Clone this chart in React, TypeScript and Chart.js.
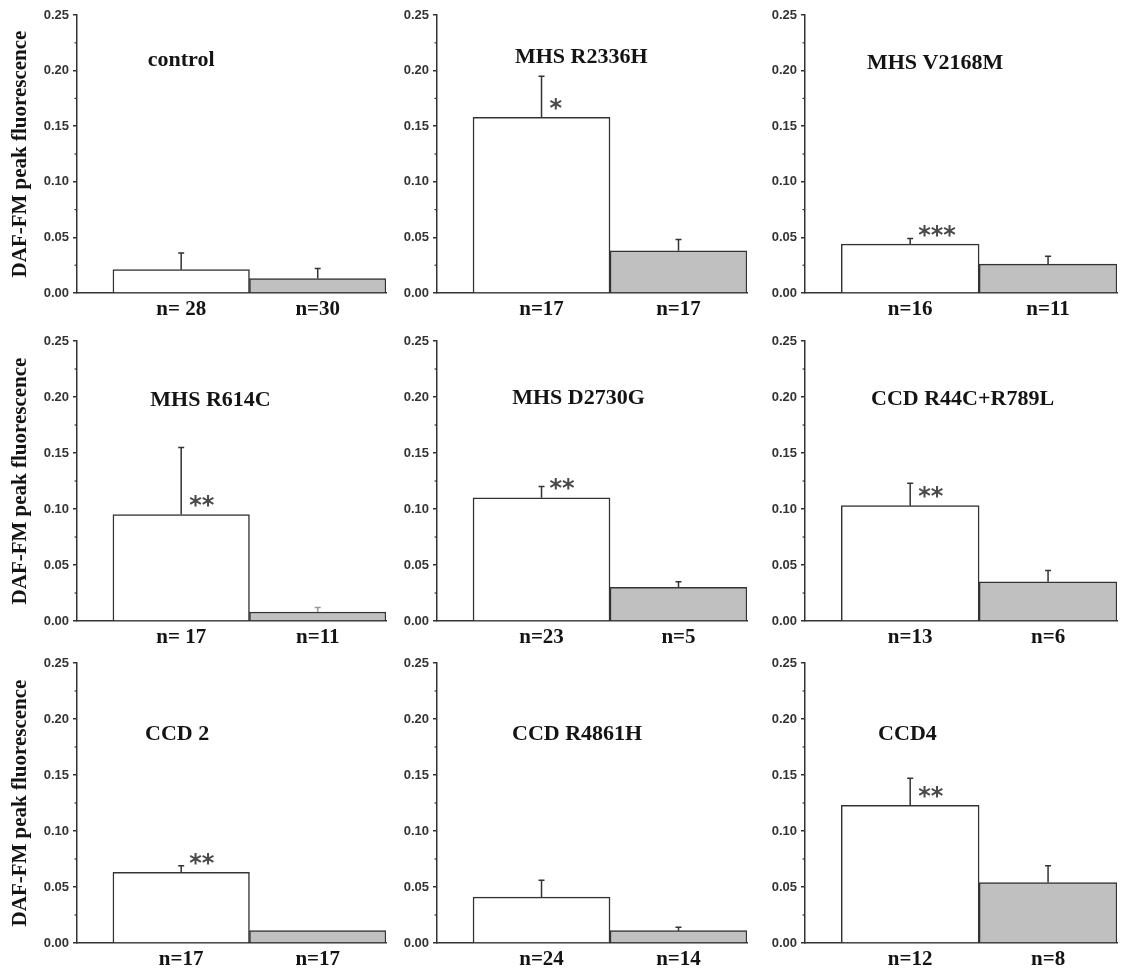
import React, { useEffect, useRef } from "react";
import { Chart, registerables } from "chart.js";

Chart.register(...registerables);

// ---------- data ----------
const panelTitles = ["control", "MHS R2336H", "MHS V2168M", "MHS R614C", "MHS D2730G", "CCD R44C+R789L", "CCD 2", "CCD R4861H", "CCD4"];
const firstMeans = [0.021, 0.158, 0.044, 0.095, 0.110, 0.103, 0.063, 0.041, 0.123];
const firstErrors = [0.015, 0.037, 0.005, 0.060, 0.010, 0.020, 0.006, 0.015, 0.024];
const secondMeans = [0.013, 0.038, 0.026, 0.008, 0.030, 0.035, 0.011, 0.011, 0.054];
const secondErrors = [0.009, 0.010, 0.007, 0.004, 0.005, 0.010, 0.0, 0.003, 0.015];
const firstN = ["n= 28", "n=17", "n=16", "n= 17", "n=23", "n=13", "n=17", "n=24", "n=12"];
const secondN = ["n=30", "n=17", "n=11", "n=11", "n=5", "n=6", "n=17", "n=14", "n=8"];
const significance = ["", "*", "***", "**", "**", "**", "**", "", "**"];
const yTicks = [0, 0.05, 0.1, 0.15, 0.2, 0.25];
const yAxisTitle = "DAF-FM peak fluorescence";

// ---------- layout (not data) ----------
const X_MIN = -0.263;
const X_MAX = 2;
const titleAnchors = [
  [0.5, 0.209], [0.79, 0.212], [0.68, 0.207],
  [0.715, 0.197], [0.77, 0.199], [0.88, 0.198],
  [0.47, 0.186], [0.76, 0.186], [0.48, 0.186],
];
const COLS = [
  { left: 0, width: 392, axisW: 77, padR: 6, yTitle: true },
  { left: 392, width: 360, axisW: 45, padR: 5, yTitle: false },
  { left: 752, width: 370, axisW: 53, padR: 5, yTitle: false },
];
const ROWS = [
  { top: 0, height: 326, padT: 15, xH: 33 },
  { top: 322, height: 328, padT: 19, xH: 29 },
  { top: 645, height: 327, padT: 18, xH: 29 },
];

const AXIS_COLOR = "#333333";
const TEXT_COLOR = "#141414";
const SERIF = '"Liberation Serif", "Times New Roman", serif';
const SANS = '"Liberation Sans", Arial, sans-serif';

function Panel({ idx }: { idx: number }) {
  const ref = useRef<HTMLCanvasElement | null>(null);
  const col = COLS[idx % 3];
  const row = ROWS[Math.floor(idx / 3)];

  useEffect(() => {
    if (!ref.current) return;
    const means = [firstMeans[idx], secondMeans[idx]];
    const errs = [firstErrors[idx], secondErrors[idx]];
    const xs = [0.5, 1.5];
    const nLabels = [firstN[idx], secondN[idx]];

    const decor = {
      id: "decor",
      afterDatasetsDraw(chart: any) {
        const ctx = chart.ctx;
        const xS = chart.scales.x;
        const yS = chart.scales.y;
        ctx.save();
        // minor ticks on y axis
        ctx.strokeStyle = AXIS_COLOR;
        ctx.lineWidth = 1.2;
        for (let k = 0; k < yTicks.length - 1; k++) {
          const v = (yTicks[k] + yTicks[k + 1]) / 2;
          const py = yS.getPixelForValue(v);
          ctx.beginPath();
          ctx.moveTo(xS.left - 2.5, py);
          ctx.lineTo(xS.left, py);
          ctx.stroke();
        }
        // error bars (one-sided, upward)
        ctx.lineWidth = 1.5;
        for (let i = 0; i < 2; i++) {
          if (errs[i] <= 0) continue;
          const px = xS.getPixelForValue(xs[i]);
          const yb = yS.getPixelForValue(means[i]);
          const yt = yS.getPixelForValue(means[i] + errs[i]);
          ctx.strokeStyle = i === 1 && idx === 3 ? "#999999" : AXIS_COLOR;
          ctx.beginPath();
          ctx.moveTo(px, yb);
          ctx.lineTo(px, yt);
          ctx.moveTo(px - 3, yt);
          ctx.lineTo(px + 3, yt);
          ctx.stroke();
        }
        // significance stars
        const stars = significance[idx];
        if (stars) {
          const px = xS.getPixelForValue(xs[0]) + 8;
          const pc = yS.getPixelForValue(means[0] + 0.013);
          ctx.fillStyle = "#4a4a4a";
          ctx.font = 'bold 24px "DejaVu Sans", sans-serif';
          ctx.textAlign = "left";
          ctx.textBaseline = "alphabetic";
          ctx.fillText(stars, px, pc + 13);
        }
        // panel title
        const [tx, ty] = titleAnchors[idx];
        ctx.fillStyle = TEXT_COLOR;
        ctx.font = `bold 22px ${SERIF}`;
        ctx.textAlign = "center";
        ctx.textBaseline = "middle";
        ctx.fillText(panelTitles[idx], xS.getPixelForValue(tx), yS.getPixelForValue(ty));
        ctx.restore();
      },
    };

    const chart = new Chart(ref.current, {
      type: "bar",
      data: {
        datasets: [
          {
            data: [
              { x: xs[0], y: means[0] },
              { x: xs[1], y: means[1] },
            ],
            backgroundColor: ["#ffffff", "#c0c0c0"],
            borderColor: AXIS_COLOR,
            borderWidth: 1.5,
            barPercentage: 1,
            categoryPercentage: 1,
            borderSkipped: "start",
          } as any,
        ],
      },
      options: {
        animation: false,
        responsive: false,
        maintainAspectRatio: false,
        events: [],
        layout: { padding: { top: row.padT, right: col.padR, left: 0, bottom: 0 } },
        plugins: { legend: { display: false }, tooltip: { enabled: false } },
        scales: {
          x: {
            type: "linear",
            min: X_MIN,
            max: X_MAX,
            offset: false,
            grid: { display: false, drawTicks: false, offset: false },
            border: { display: true, color: AXIS_COLOR, width: 1.5 },
            ticks: {
              padding: 4,
              autoSkip: false,
              maxRotation: 0,
              color: TEXT_COLOR,
              font: { family: SERIF, size: 21, weight: "bold" },
              callback: (_v: any, i: number) => nLabels[i],
            },
            afterBuildTicks: (s: any) => {
              s.ticks = xs.map((v) => ({ value: v }));
            },
            afterFit: (s: any) => {
              s.height = row.xH;
            },
          } as any,
          y: {
            min: 0,
            max: 0.25,
            ticks: {
              stepSize: 0.05,
              padding: 4,
              color: AXIS_COLOR,
              font: { family: SANS, size: 13, weight: "bold" },
              callback: (v: any) => Number(v).toFixed(2),
            },
            afterBuildTicks: (s: any) => {
              s.ticks = yTicks.map((v) => ({ value: v }));
            },
            grid: { drawOnChartArea: false, drawTicks: true, tickLength: 4, color: AXIS_COLOR, lineWidth: 1.5 },
            border: { display: true, color: AXIS_COLOR, width: 1.5 },
            title: {
              display: col.yTitle,
              text: yAxisTitle,
              color: TEXT_COLOR,
              font: { family: SERIF, size: 21, weight: "bold" },
              padding: { top: 8, bottom: 0 },
            },
            afterFit: (s: any) => {
              s.width = col.axisW;
            },
          } as any,
        },
      },
      plugins: [decor],
    });
    return () => chart.destroy();
  }, [idx]);

  return (
    <canvas
      ref={ref}
      width={col.width}
      height={row.height}
      style={{
        position: "absolute",
        left: col.left,
        top: row.top,
        width: col.width,
        height: row.height,
      }}
    />
  );
}

export default function App() {
  return (
    <div
      style={{
        position: "absolute",
        left: 0,
        top: 0,
        width: 1122,
        height: 972,
        background: "#ffffff",
        overflow: "hidden",
      }}
    >
      {panelTitles.map((_, i) => (
        <Panel key={i} idx={i} />
      ))}
    </div>
  );
}
